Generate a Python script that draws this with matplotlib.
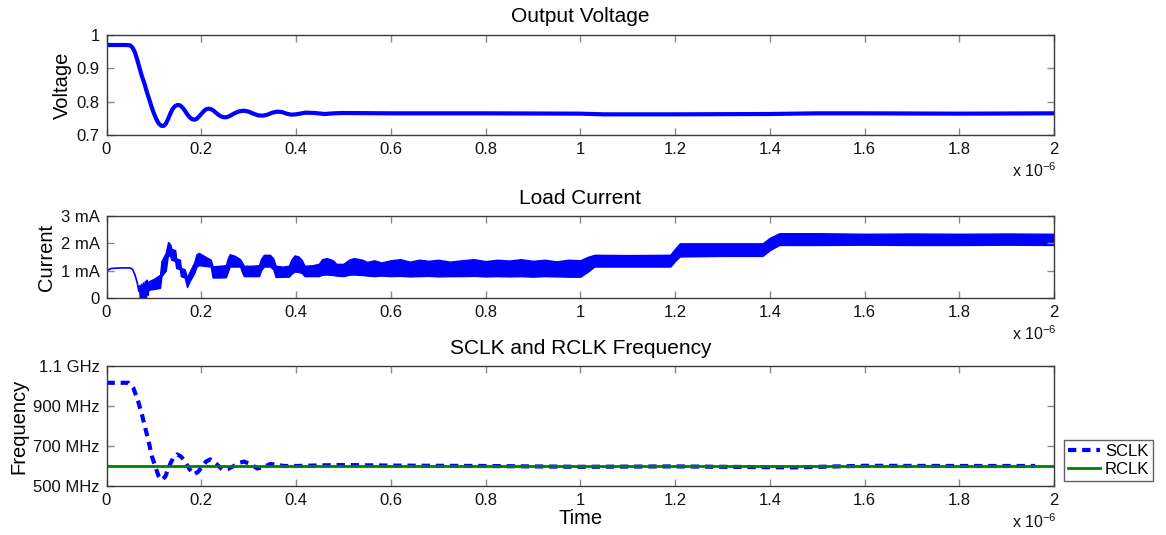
import matplotlib
matplotlib.use("Agg")
import matplotlib.pyplot as plt
from matplotlib.ticker import FuncFormatter, FixedLocator

plt.rcParams['font.family'] = ['Liberation Sans', 'DejaVu Sans']
plt.rcParams['mathtext.fontset'] = 'custom'
plt.rcParams['mathtext.rm'] = 'Liberation Sans'
plt.rcParams['mathtext.it'] = 'Liberation Sans'

# ---------------- data (time in microseconds) ----------------
volt_t = [0.0, 0.02, 0.04, 0.05, 0.055, 0.06, 0.065, 0.07, 0.075, 0.08, 0.085, 0.09,
          0.095, 0.10, 0.105, 0.11, 0.115, 0.12, 0.125, 0.13, 0.135, 0.14, 0.145,
          0.15, 0.155, 0.16, 0.165, 0.17, 0.175, 0.18, 0.185, 0.19, 0.195, 0.20,
          0.205, 0.21, 0.215, 0.22, 0.225, 0.23, 0.235, 0.24, 0.245, 0.25, 0.255,
          0.26, 0.27, 0.28, 0.29, 0.30, 0.31, 0.32, 0.33, 0.34, 0.35, 0.36, 0.37,
          0.38, 0.39, 0.40, 0.42, 0.44, 0.46, 0.48, 0.50, 0.60, 0.80, 1.00, 1.05,
          1.20, 1.40, 1.50, 1.60, 1.80, 2.00]
volt_v = [0.970, 0.970, 0.970, 0.969, 0.962, 0.948, 0.925, 0.900, 0.875, 0.855, 0.830, 0.808,
          0.785, 0.765, 0.748, 0.735, 0.728, 0.727, 0.733, 0.748, 0.765, 0.779, 0.787,
          0.790, 0.789, 0.783, 0.774, 0.763, 0.754, 0.748, 0.746, 0.748, 0.755, 0.763,
          0.771, 0.777, 0.779, 0.778, 0.774, 0.768, 0.762, 0.757, 0.754, 0.753, 0.754,
          0.757, 0.765, 0.771, 0.773, 0.770, 0.764, 0.759, 0.758, 0.761, 0.767, 0.770, 0.769,
          0.764, 0.761, 0.762, 0.767, 0.766, 0.763, 0.765, 0.766, 0.765, 0.765, 0.764, 0.762,
          0.762, 0.763, 0.765, 0.765, 0.764, 0.765]

# early current trace (mA)
cur_line_t = [0.0, 0.01, 0.03, 0.05, 0.055, 0.06, 0.065, 0.068, 0.070, 0.072, 0.074,
              0.076, 0.078, 0.080, 0.082, 0.084, 0.086, 0.088, 0.090]
cur_line_v = [1.00, 1.08, 1.10, 1.10, 1.05, 0.85, 0.55, 0.25, 0.45, -0.2, 0.50,
              -0.2, 0.55, -0.2, 0.60, -0.1, 0.65, 0.10, 0.55]

# current band envelope (mA)
band_t = [0.088, 0.100, 0.113, 0.116, 0.125, 0.130, 0.135, 0.137, 0.145, 0.147, 0.155,
          0.157, 0.165, 0.170, 0.175, 0.185, 0.190, 0.195, 0.205, 0.215, 0.220, 0.224,
          0.240, 0.252, 0.256, 0.260, 0.270, 0.282, 0.286, 0.290, 0.305, 0.322, 0.326,
          0.332, 0.345, 0.352, 0.357, 0.372, 0.385, 0.390, 0.397, 0.405, 0.412, 0.418,
          0.435, 0.448, 0.455, 0.465, 0.478, 0.485, 0.500, 0.512, 0.522, 0.540, 0.550,
          0.565, 0.580, 0.600, 0.620, 0.640, 0.660, 0.680, 0.700, 0.725, 0.750, 0.775,
          0.800, 0.825, 0.850, 0.875, 0.900, 0.925, 0.950, 0.975, 1.000, 1.015, 1.030,
          1.100, 1.190, 1.200, 1.210, 1.300, 1.385, 1.400, 1.420, 1.500, 1.600, 1.700,
          1.800, 1.900, 2.000]
band_hi = [0.60, 0.70, 0.85, 1.35, 1.65, 2.05, 1.95, 1.80, 1.75, 1.45, 1.40,
           1.10, 1.05, 0.75, 0.95, 1.30, 1.60, 1.65, 1.55, 1.45, 1.40, 1.16,
           1.18, 1.20, 1.45, 1.60, 1.55, 1.42, 1.30, 1.18, 1.18, 1.20, 1.42,
           1.58, 1.58, 1.45, 1.18, 1.15, 1.18, 1.40, 1.56, 1.52, 1.40, 1.18,
           1.20, 1.25, 1.42, 1.46, 1.38, 1.25, 1.25, 1.40, 1.46, 1.40, 1.32,
           1.38, 1.30, 1.38, 1.42, 1.33, 1.40, 1.36, 1.40, 1.33, 1.38, 1.42,
           1.35, 1.40, 1.37, 1.42, 1.36, 1.40, 1.34, 1.40, 1.38, 1.50, 1.58,
           1.57, 1.58, 1.80, 2.00, 2.00, 2.00, 2.20, 2.37, 2.37, 2.35, 2.36,
           2.35, 2.36, 2.35]
band_lo = [0.30, 0.33, 0.37, 0.80, 1.00, 1.60, 1.50, 1.40, 1.35, 1.10, 1.05,
           0.80, 0.75, 0.40, 0.60, 0.90, 1.15, 1.20, 1.18, 1.16, 1.15, 0.75,
           0.75, 0.76, 0.95, 1.15, 1.15, 1.15, 0.95, 0.80, 0.80, 0.80, 1.00,
           1.15, 1.15, 1.05, 0.77, 0.78, 0.78, 0.88, 0.97, 0.95, 0.92, 0.80,
           0.80, 0.80, 0.85, 0.86, 0.84, 0.82, 0.80, 0.85, 0.86, 0.84, 0.82,
           0.80, 0.82, 0.80, 0.81, 0.79, 0.80, 0.81, 0.79, 0.80, 0.80, 0.81,
           0.79, 0.80, 0.79, 0.80, 0.78, 0.80, 0.79, 0.78, 0.78, 0.95, 1.15,
           1.15, 1.15, 1.35, 1.52, 1.54, 1.54, 1.75, 1.94, 1.94, 1.95, 1.94,
           1.94, 1.95, 1.94]

# frequency (MHz)
sclk_t = [0.0, 0.02, 0.046, 0.057, 0.067, 0.075, 0.082, 0.089, 0.096, 0.103, 0.110,
          0.117, 0.124, 0.135, 0.142, 0.149, 0.157, 0.166, 0.175, 0.184, 0.193, 0.202,
          0.210, 0.219, 0.231, 0.244, 0.256, 0.269, 0.280, 0.290, 0.304, 0.318, 0.332,
          0.346, 0.360, 0.375, 0.400, 0.45, 0.50, 0.60, 0.80, 1.00, 1.20, 1.45, 1.60,
          1.80, 1.96]
sclk_f = [1016, 1016, 1016, 988, 922, 855, 788, 722, 647, 597, 550,
          530, 547, 613, 645, 658, 648, 622, 585, 558, 570, 597,
          622, 633, 612, 583, 585, 600, 616, 622, 610, 588, 595,
          610, 606, 600, 600, 603, 605, 602, 600, 596, 598, 593, 601,
          600, 600]
rclk_t = [0.0, 2.0]
rclk_f = [600, 600]

x_ticks = [0, 0.2, 0.4, 0.6, 0.8, 1.0, 1.2, 1.4, 1.6, 1.8, 2.0]
volt_ticks = [0.7, 0.8, 0.9, 1.0]
cur_ticks = [0, 1, 2, 3]
cur_labels = ['0', '1 mA', '2 mA', '3 mA']
freq_ticks = [500, 700, 900, 1100]
freq_labels = ['500 MHz', '700 MHz', '900 MHz', '1.1 GHz']

# ---------------- figure ----------------
W, H = 1166, 535
fig = plt.figure(figsize=(W / 100, H / 100), dpi=100)

def rect(left, top, right, bottom):
    return [left / W, 1 - bottom / H, (right - left) / W, (bottom - top) / H]

ax1 = fig.add_axes(rect(106.5, 35, 1054, 135))
ax2 = fig.add_axes(rect(106.5, 216, 1054, 298))
ax3 = fig.add_axes(rect(106.5, 366, 1054, 486))

BLUE = '#0000ff'
GREEN = '#008000'
TICKFS = 12
TITLEFS = 15
LABELFS = 14.5
fmt = FuncFormatter(lambda v, p: '%g' % round(v, 6))

for ax in (ax1, ax2, ax3):
    ax.set_xlim(0, 2)
    ax.xaxis.set_major_locator(FixedLocator(x_ticks))
    ax.xaxis.set_major_formatter(fmt)
    ax.tick_params(direction='in', top=True, right=True, length=5, width=1,
                   color='#8a8a8a', labelsize=TICKFS, pad=5, labelcolor='#111111')
    for s in ax.spines.values():
        s.set_color('#3a3a3a')
        s.set_linewidth(1.0)
    ax.annotate('x $10^{-6}$', xy=(1, 0), xycoords='axes fraction',
                xytext=(3, -36), textcoords='offset pixels', ha='right', va='center',
                fontsize=11.5, color='#111111')

# voltage
ax1.plot(volt_t, volt_v, color=BLUE, lw=3.0, solid_joinstyle='round')
ax1.set_ylim(0.7, 1.0)
ax1.yaxis.set_major_locator(FixedLocator(volt_ticks))
ax1.yaxis.set_major_formatter(fmt)
ax1.set_title('Output Voltage', fontsize=TITLEFS, pad=9)
ax1.set_ylabel('Voltage', fontsize=LABELFS, labelpad=3)

# current
ax2.plot(cur_line_t, cur_line_v, color=BLUE, lw=1.2)
ax2.fill_between(band_t, band_lo, band_hi, color=BLUE, lw=1.0, edgecolor=BLUE)
ax2.set_ylim(0, 3)
ax2.yaxis.set_major_locator(FixedLocator(cur_ticks))
ax2.set_yticklabels(cur_labels)
ax2.set_title('Load Current', fontsize=TITLEFS, pad=9)
ax2.set_ylabel('Current', fontsize=LABELFS, labelpad=3)

# frequency
ax3.plot(sclk_t, sclk_f, color=BLUE, lw=3.0, linestyle=(0, (2.0, 1.4)), label='SCLK')
ax3.plot(rclk_t, rclk_f, color=GREEN, lw=2.0, label='RCLK')
ax3.set_ylim(500, 1100)
ax3.yaxis.set_major_locator(FixedLocator(freq_ticks))
ax3.set_yticklabels(freq_labels)
ax3.set_title('SCLK and RCLK Frequency', fontsize=TITLEFS, pad=9)
ax3.set_ylabel('Frequency', fontsize=LABELFS, labelpad=3)
ax3.set_xlabel('Time', fontsize=LABELFS, labelpad=1)

leg = fig.legend(handles=ax3.get_lines(), loc='upper left',
                 bbox_to_anchor=(1064 / W, 1 - 440 / H), fontsize=12,
                 frameon=True, fancybox=False, handlelength=1.9, handletextpad=0.3,
                 borderpad=0.25, labelspacing=0.15, borderaxespad=0)
leg.get_frame().set_edgecolor('#3a3a3a')
leg.get_frame().set_linewidth(1.0)

fig.savefig('out.png', dpi=100)
